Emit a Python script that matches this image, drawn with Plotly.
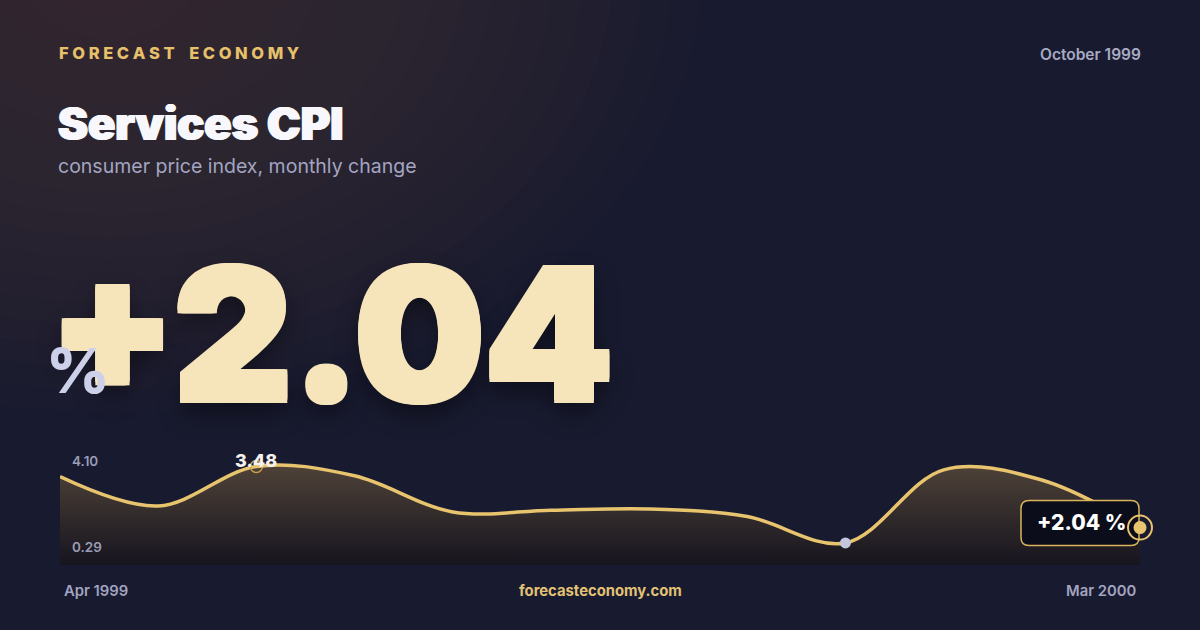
import plotly.graph_objects as go

# --- data ---
months = ['Apr 1999', 'May 1999', 'Jun 1999', 'Jul 1999', 'Aug 1999', 'Sep 1999',
          'Oct 1999', 'Nov 1999', 'Dec 1999', 'Jan 2000', 'Feb 2000', 'Mar 2000']
values = [3.24, 2.55, 3.48, 3.26, 2.41, 2.45, 2.48, 2.30, 1.68, 3.40, 3.16, 2.04]
scale_labels = ['4.10', '0.29']
report_date = 'October 1999'
brand = 'FORECAST ECONOMY'
site = 'forecasteconomy.com'
title = 'Services CPI'
subtitle = 'consumer price index, monthly change'

W, H = 1200, 630
L, R, T, B = 60, 60, 452, 65
YR = [1.16, 3.82]
GOLD = '#e8c46e'
FONT = 'Inter'


def px(x):
    return (x - L) / (W - L - R)


def py(y):
    return (H - B - y) / (H - T - B)


def fatten(color, d, dirs=None):
    # fake a heavier weight with same-colour text shadows
    dirs = dirs or [(1, 0), (-1, 0), (0, 1), (0, -1), (1, 1), (-1, 1), (1, -1), (-1, -1)]
    return ', '.join(f'{a * d}px {b * d}px 0 {color}' for a, b in dirs)


def text(x, y, s, size, color, weight=400, xanchor='left', **kw):
    return dict(x=px(x), y=py(y), xref='paper', yref='paper', text=s, showarrow=False,
                xanchor=xanchor, yanchor='middle',
                font=dict(family=FONT, size=size, color=color, weight=weight, **kw))


imax = values.index(max(values))
imin = values.index(min(values))
last = len(values) - 1

fig = go.Figure()

fig.add_trace(go.Scatter(
    x=list(range(len(values))), y=values, mode='lines',
    line=dict(color=GOLD, width=3.5, shape='spline', smoothing=1),
    fill='tozeroy',
    fillgradient=dict(type='vertical', start=YR[0], stop=3.5,
                      colorscale=[[0, 'rgba(22,20,30,1)'], [1, 'rgba(78,66,56,1)']]),
    hoverinfo='skip', showlegend=False))

# max marker (open ring) and min marker (dot)
fig.add_trace(go.Scatter(
    x=[imax], y=[values[imax]], mode='markers', cliponaxis=False,
    marker=dict(size=12, color='rgba(0,0,0,0)', line=dict(color='#c9a04e', width=1.5)),
    hoverinfo='skip', showlegend=False))
fig.add_trace(go.Scatter(
    x=[imin], y=[values[imin]], mode='markers', cliponaxis=False,
    marker=dict(size=11, color='#c3c6dc'),
    hoverinfo='skip', showlegend=False))

shapes = []
# warm glow in the top-left corner
for k in range(20):
    r = 20 + k * 22
    cx, cy = 110, -25
    shapes.append(dict(type='circle', xref='paper', yref='paper', layer='below',
                       x0=px(cx - r * 1.35), x1=px(cx + r * 1.35), y0=py(cy + r), y1=py(cy - r),
                       fillcolor='rgba(120,90,55,0.026)', line=dict(width=0)))

# rounded value box next to the last point
bx0, bx1, by0, by1, rr = -119, -1, -18, 27, 8
box = (f'M {bx0 + rr},{by1} L {bx1 - rr},{by1} Q {bx1},{by1} {bx1},{by1 - rr} '
       f'L {bx1},{by0 + rr} Q {bx1},{by0} {bx1 - rr},{by0} L {bx0 + rr},{by0} '
       f'Q {bx0},{by0} {bx0},{by0 + rr} L {bx0},{by1 - rr} Q {bx0},{by1} {bx0 + rr},{by1} Z')
shapes.append(dict(type='path', xref='paper', yref='y', xsizemode='pixel', ysizemode='pixel',
                   xanchor=1, yanchor=values[-1], path=box, layer='above',
                   fillcolor='#0c0d1a', line=dict(color='#d9b45a', width=1.5)))
# end-point ring and dot
for rad, fill, lw in [(12, 'rgba(0,0,0,0)', 2), (6.5, GOLD, 0)]:
    shapes.append(dict(type='circle', xref='paper', yref='y', xsizemode='pixel', ysizemode='pixel',
                       xanchor=1, yanchor=values[-1], x0=-rad, x1=rad, y0=-rad, y1=rad,
                       layer='above', fillcolor=fill, line=dict(color=GOLD, width=lw)))

big_color = '#f6e4ba'
annotations = [
    text(57, 53, ' '.join(brand).replace('   ', '    '), 16.5, '#e6c06a', 800),
    text(1143, 54, report_date, 15.5, '#a8aac4', 600, xanchor='right'),
    text(56, 123, title, 45, '#f8f8fc', 900, shadow=fatten('#f8f8fc', 1, [(1, 0), (-1, 0)])),
    text(56, 166, subtitle, 19.5, '#a3a5c2', 400),
    text(47, 333, f'+{values[-1]:.2f}', 183, big_color, 900,
         shadow=fatten(big_color, 2.5) + ', 0px 12px 26px rgba(0,0,0,0.45)'),
    text(78, 370, '%', 62, '#ccd0e8', 800, xanchor='center'),
    text(70, 461, scale_labels[0], 13.5, '#9a9cb8', 600),
    text(70, 547, scale_labels[1], 13.5, '#9a9cb8', 600),
    text(62, 591, months[0], 14.8, '#a3a5c0', 600),
    text(600, 591, site, 14.8, '#e2c275', 700, xanchor='center'),
    text(1138, 591, months[-1], 14.8, '#a3a5c0', 600, xanchor='right'),
    dict(x=imax, y=values[imax], xref='x', yref='y', text=f'{values[imax]:.2f}',
         showarrow=False, yshift=6, font=dict(family=FONT, size=18, color='#f4f2ee', weight=800)),
    dict(x=last, y=values[-1], xref='x', yref='y', text=f'+{values[-1]:.2f} %',
         showarrow=False, xshift=-59, yshift=5,
         font=dict(family=FONT, size=21, color='#ffffff', weight=800)),
]

fig.update_layout(
    width=W, height=H,
    margin=dict(l=L, r=R, t=T, b=B),
    paper_bgcolor='#181a2f', plot_bgcolor='rgba(0,0,0,0)',
    xaxis=dict(range=[0, last], visible=False, fixedrange=True),
    yaxis=dict(range=YR, visible=False, fixedrange=True),
    shapes=shapes, annotations=annotations,
    showlegend=False,
)

fig.write_html('out.html', config={'displayModeBar': False},
               post_script="document.body.style.margin='0';")
